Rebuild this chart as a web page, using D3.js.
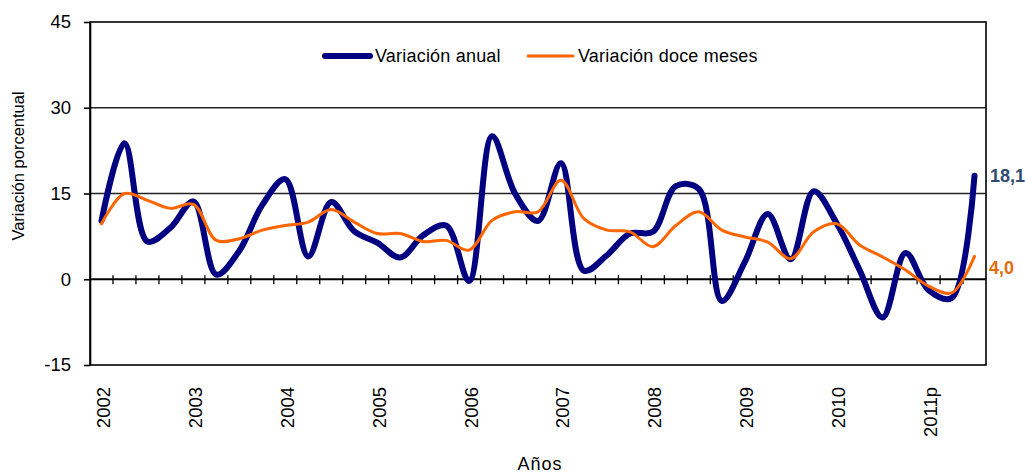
<!DOCTYPE html>
<html>
<head>
<meta charset="utf-8">
<script src="https://cdn.jsdelivr.net/npm/d3@7"></script>
<style>
  body { margin: 0; background: #fff; }
  text { font-family: "Liberation Sans", Arial, sans-serif; }
</style>
</head>
<body>
<svg width="1025" height="473"></svg>
<script>

// trimestres 2002-I .. 2011p-III
var years = ["2002", "2003", "2004", "2005", "2006", "2007", "2008", "2009", "2010", "2011p"];
var quarters = [];
years.forEach(function (y) {
    ["I", "II", "III", "IV"].forEach(function (q) { quarters.push(y + "-" + q); });
});
quarters = quarters.slice(0, 39);

var anual = [10.2, 23.8, 6.6, 9.0, 13.6, 0.8, 5.0, 13.0, 17.5, 4.0,
             13.5, 8.4, 6.4, 3.8, 7.7, 9.4, -0.3, 25.0, 15.0, 10.2,
             20.3, 1.5, 4.2, 8.0, 8.3, 16.3, 15.8, -3.8, 3.0, 11.4,
             3.5, 15.4, 9.8, 1.6, -6.7, 4.6, -1.9, -3.3, 18.1];

var doceMeses = [9.7, 15.0, 13.8, 12.4, 13.1, 6.8, 7.1, 8.6, 9.4, 10.0,
                 12.2, 10.0, 8.0, 8.0, 6.6, 6.8, 5.1, 10.3, 11.8, 11.8,
                 17.3, 10.6, 8.6, 8.3, 5.7, 9.4, 11.8, 8.6, 7.4, 6.5,
                 3.6, 8.3, 9.7, 6.0, 3.9, 1.6, -1.2, -2.4, 4.0];

var yTicks = [-15, 0, 15, 30, 45];

var svg = d3.select("svg");
var pLeft = 90, pRight = 986, pTop = 22, pBottom = 365;

var x = d3.scaleBand().domain(quarters).range([pLeft, pRight]).padding(0);
var y = d3.scaleLinear().domain([-15, 45]).range([pBottom, pTop]);
var cx = function (i) { return x(quarters[i]) + x.bandwidth() / 2; };

// gridlines
svg.selectAll("line.grid")
    .data([15, 30])
    .enter().append("line")
    .attr("x1", pLeft).attr("x2", pRight)
    .attr("y1", function (d) { return y(d); })
    .attr("y2", function (d) { return y(d); })
    .attr("stroke", "#222").attr("stroke-width", 1.3);

// frame
svg.append("rect")
    .attr("x", pLeft).attr("y", pTop)
    .attr("width", pRight - pLeft).attr("height", pBottom - pTop)
    .attr("fill", "none").attr("stroke", "#000").attr("stroke-width", 1.6);

// y axis
var yAxis = svg.append("g")
    .attr("transform", "translate(" + pLeft + ",0)")
    .call(d3.axisLeft(y).tickValues(yTicks).tickFormat(String)
        .tickSize(6).tickSizeOuter(0).tickPadding(13));
yAxis.select(".domain").attr("stroke", "#000").attr("stroke-width", 1.6);
yAxis.selectAll(".tick line").attr("stroke", "#000").attr("stroke-width", 1.6);
yAxis.selectAll(".tick text")
    .attr("font-size", 18.5).attr("fill", "#000")
    .style("font-family", "Liberation Sans, Arial, sans-serif");

// zero line with category ticks
svg.append("line")
    .attr("x1", pLeft).attr("x2", pRight)
    .attr("y1", y(0)).attr("y2", y(0))
    .attr("stroke", "#000").attr("stroke-width", 2);

svg.selectAll("line.qtick")
    .data(quarters.slice(1))
    .enter().append("line")
    .attr("x1", function (d) { return x(d); })
    .attr("x2", function (d) { return x(d); })
    .attr("y1", y(0) - 4).attr("y2", y(0) + 5)
    .attr("stroke", "#000").attr("stroke-width", 1.3);

// year labels
svg.selectAll("text.year")
    .data(years)
    .enter().append("text")
    .attr("transform", function (d, i) {
        return "translate(" + (cx(i * 4) + 2) + ",387) rotate(-90)";
    })
    .attr("text-anchor", "end")
    .attr("dy", "0.35em")
    .attr("font-size", 18.5)
    .text(function (d) { return d; });

// axis titles
svg.append("text")
    .attr("transform", "translate(24,166) rotate(-90)")
    .attr("text-anchor", "middle")
    .attr("font-size", 16.5)
    .text("Variación porcentual");

svg.append("text")
    .attr("x", 540).attr("y", 470)
    .attr("text-anchor", "middle")
    .attr("font-size", 18)
    .attr("letter-spacing", 1)
    .text("Años");

// series
var line = d3.line()
    .x(function (d, i) { return cx(i); })
    .y(function (d) { return y(d); })
    .curve(d3.curveCatmullRom.alpha(0.5));

svg.append("path")
    .datum(anual)
    .attr("d", line)
    .attr("fill", "none")
    .attr("stroke", "#000080")
    .attr("stroke-width", 6)
    .attr("stroke-linecap", "round")
    .attr("stroke-linejoin", "round");

svg.append("path")
    .datum(doceMeses)
    .attr("d", line)
    .attr("fill", "none")
    .attr("stroke", "#FF6600")
    .attr("stroke-width", 3)
    .attr("stroke-linecap", "round")
    .attr("stroke-linejoin", "round");

// end labels
var last = quarters.length - 1;
svg.append("text")
    .attr("x", 990).attr("y", y(anual[last]) + 6)
    .attr("font-size", 18).attr("font-weight", "bold")
    .attr("fill", "#2F4B6E")
    .text(anual[last].toFixed(1).replace(".", ","));

svg.append("text")
    .attr("x", 989).attr("y", y(doceMeses[last]) + 18)
    .attr("font-size", 18).attr("font-weight", "bold")
    .attr("fill", "#E46C0A")
    .text(doceMeses[last].toFixed(1).replace(".", ","));

// legend
var legend = [
    {name: "Variación anual", color: "#000080", w: 6, x: 325},
    {name: "Variación doce meses", color: "#FF6600", w: 3, x: 528}
];
var lg = svg.selectAll("g.legend")
    .data(legend)
    .enter().append("g")
    .attr("transform", function (d) { return "translate(" + d.x + ",56)"; });
lg.append("line")
    .attr("x1", 0).attr("x2", 45)
    .attr("stroke", function (d) { return d.color; })
    .attr("stroke-width", function (d) { return d.w; })
    .attr("stroke-linecap", "round");
lg.append("text")
    .attr("x", 50).attr("y", 6)
    .attr("font-size", 18)
    .attr("letter-spacing", 0.2)
    .text(function (d) { return d.name; });

</script>
</body>
</html>
